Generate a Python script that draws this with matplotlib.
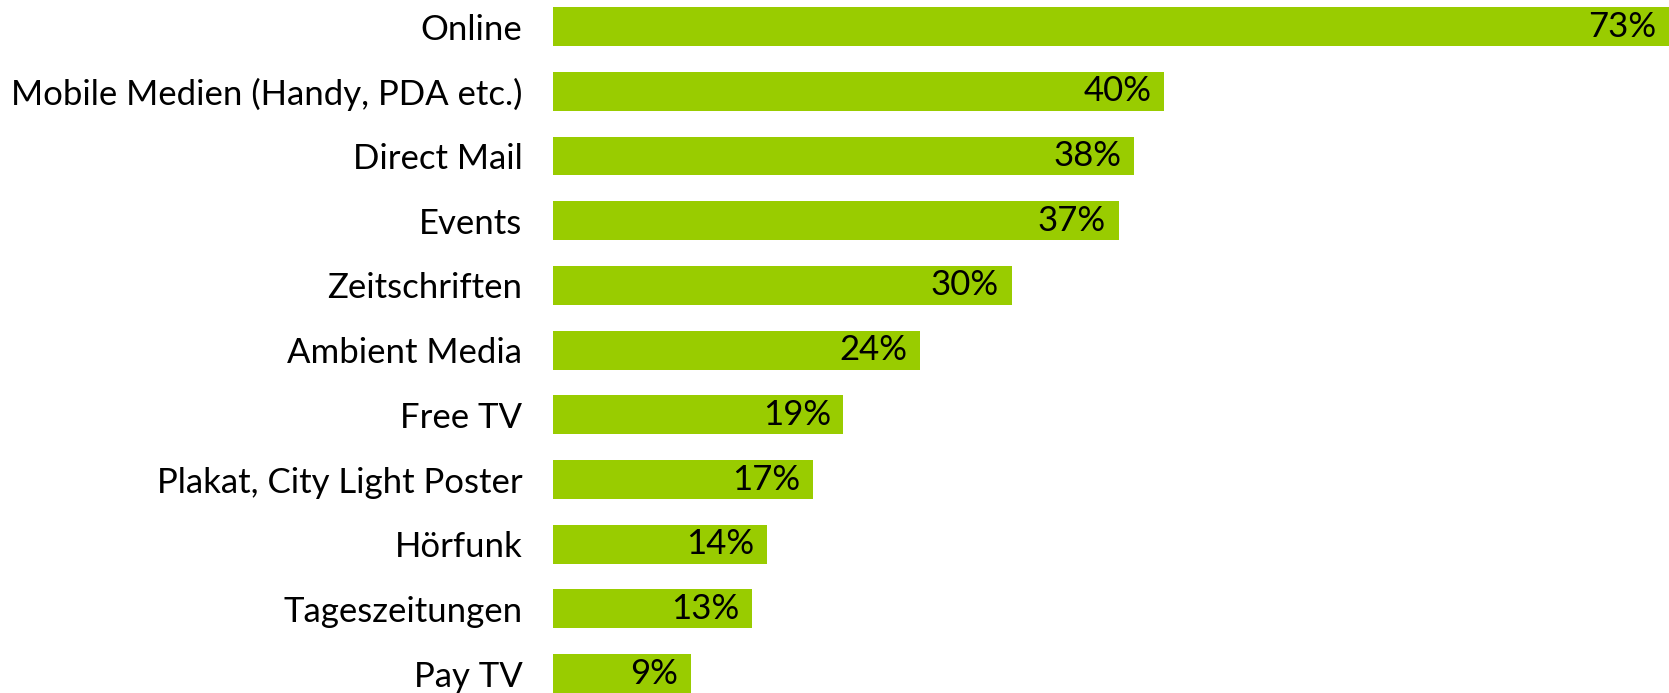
import matplotlib
matplotlib.use("Agg")
import matplotlib.pyplot as plt

categories = ["Online", "Mobile Medien (Handy, PDA etc.)", "Direct Mail", "Events",
              "Zeitschriften", "Ambient Media", "Free TV", "Plakat, City Light Poster",
              "Hörfunk", "Tageszeitungen", "Pay TV"]
values = [73, 40, 38, 37, 30, 24, 19, 17, 14, 13, 9]

plt.rcParams['font.family'] = ['Lato', 'DejaVu Sans']

fig = plt.figure(figsize=(16.69, 6.93), dpi=100)
ax = fig.add_axes([0.3313, 0.0, 0.6687, 0.9895])

pos = list(range(len(categories)))
ax.barh(pos, values, height=0.6, color="#99CC00")
ax.set_ylim(len(categories) - 0.7, -0.3)
ax.set_xlim(0, 73)

for p, v in zip(pos, values):
    ax.annotate(f"{v}%", (v, p), xytext=(-9, 0), textcoords="offset points",
                ha="right", va="center", fontsize=25, color="black")

ax.set_yticks(pos)
ax.set_yticklabels(categories, fontsize=25)
ax.tick_params(axis="y", length=0, pad=22)
ax.set_xticks([])
for s in ax.spines.values():
    s.set_visible(False)

fig.savefig("out.png", dpi=100)
